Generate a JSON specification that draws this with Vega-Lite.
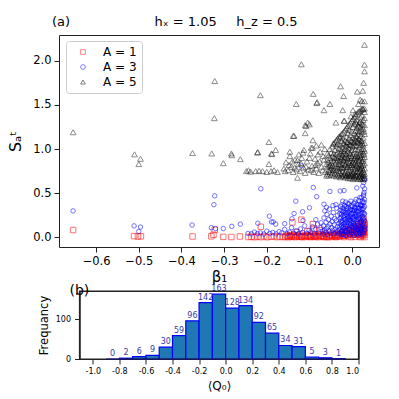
{
"$schema": "https://vega.github.io/schema/vega-lite/v6.json",
"autosize": {"type": "none"},
"padding": {"left": 59, "top": 35, "right": 340, "bottom": 364},
"background": "white",
"config": {
  "font": "DejaVu Sans",
  "view": {"stroke": "#222", "strokeWidth": 1},
  "axis": {"grid": false, "domain": false, "tickColor": "#222", "tickWidth": 1, "labelColor": "black", "titleColor": "black", "labelFont": "DejaVu Sans", "titleFont": "DejaVu Sans", "titleFontWeight": "normal"},
  "title": {"font": "DejaVu Sans", "fontWeight": "normal", "color": "black"}
},
"bounds": "flush",
"center": true,
"spacing": 44,
"vconcat": [
 {
  "width": 320, "height": 212,
  "title": {"text": "(a)\u2003\u2003\u2003\u2003\u2003\u2003\u2002hₓ = 1.05\u2003\u2002h_z = 0.5", "anchor": "start", "frame": "group", "dx": -7, "offset": -4, "fontSize": 13, "baseline": "alphabetic"},
  "encoding": {
    "x": {"field": "b", "type": "quantitative", "scale": {"domain": [-0.687, 0.063], "nice": false, "zero": false},
          "axis": {"title": "β₁", "values": [-0.6, -0.5, -0.4, -0.3, -0.2, -0.1, 0], "format": ".1f", "labelFontSize": 11.5, "titleFontSize": 15, "tickSize": 5, "labelPadding": 3, "titlePadding": 3}},
    "y": {"field": "s", "type": "quantitative", "scale": {"domain": [-0.109, 2.291], "nice": false, "zero": false},
          "axis": {"title": "Sₐᵗ", "values": [0, 0.5, 1, 1.5, 2], "format": ".1f", "labelFontSize": 11.5, "titleFontSize": 16, "tickSize": 5, "labelPadding": 3, "titlePadding": 9}}
  },
  "layer": [
   {
    "data": {"values": [
{"b":-0.654,"s":0.083},{"b":-0.511,"s":0.014},{"b":-0.502,"s":0.01},{"b":-0.495,"s":0.012},{"b":-0.374,"s":0.01},{"b":-0.33,"s":0.012},{"b":-0.325,"s":0.03},{"b":-0.322,"s":0.085},{"b":-0.302,"s":0.006},{"b":-0.283,"s":0.004},{"b":-0.263,"s":0.01},{"b":-0.214,"s":0.12},{"b":-0.243,"s":0.004},{"b":-0.236,"s":0.008},{"b":-0.229,"s":0.002},{"b":-0.222,"s":0.009},{"b":-0.214,"s":0.003},{"b":-0.206,"s":0.011},{"b":-0.199,"s":0.002},{"b":-0.19,"s":0.007},{"b":-0.183,"s":0.013},{"b":-0.176,"s":0.003},{"b":-0.169,"s":0.009},{"b":-0.162,"s":0.004},{"b":-0.14,"s":0.17},{"b":-0.119,"s":0.2},{"b":-0.092,"s":0.15},{"b":-0.09,"s":0.1},{"b":-0.13,"s":0.06},{"b":-0.105,"s":0.07},{"b":-0.076,"s":0.08},
{"b":-0.157,"s":0.005},{"b":-0.153,"s":0.021},{"b":-0.149,"s":0.002},{"b":-0.146,"s":0.015},{"b":-0.141,"s":0.006},{"b":-0.137,"s":0.026},{"b":-0.133,"s":0.003},{"b":-0.129,"s":0.012},{"b":-0.124,"s":0.007},{"b":-0.121,"s":0.031},{"b":-0.117,"s":0.002},{"b":-0.112,"s":0.018},{"b":-0.108,"s":0.005},{"b":-0.104,"s":0.024},{"b":-0.1,"s":0.009},{"b":-0.096,"s":0.003},{"b":-0.093,"s":0.028},{"b":-0.088,"s":0.006},{"b":-0.084,"s":0.017},{"b":-0.08,"s":0.002},{"b":-0.077,"s":0.035},{"b":-0.073,"s":0.008},{"b":-0.069,"s":0.019},{"b":-0.065,"s":0.003},{"b":-0.062,"s":0.041},{"b":-0.058,"s":0.011},{"b":-0.055,"s":0.002},{"b":-0.051,"s":0.027},{"b":-0.047,"s":0.006},{"b":-0.044,"s":0.048},{"b":-0.04,"s":0.014},{"b":-0.037,"s":0.003},{"b":-0.033,"s":0.032},{"b":-0.029,"s":0.008},{"b":-0.026,"s":0.055},{"b":-0.022,"s":0.019},{"b":-0.019,"s":0.004},{"b":-0.015,"s":0.038},{"b":-0.012,"s":0.071},{"b":-0.009,"s":0.012},{"b":-0.006,"s":0.046},{"b":-0.003,"s":0.003},{"b":0.0,"s":0.084},{"b":0.002,"s":0.027},{"b":0.005,"s":0.058},{"b":0.007,"s":0.006},{"b":0.01,"s":0.097},{"b":0.012,"s":0.035},{"b":0.015,"s":0.068},{"b":0.017,"s":0.012},{"b":0.019,"s":0.108},{"b":0.021,"s":0.044},{"b":0.023,"s":0.079},{"b":0.025,"s":0.018},{"b":0.026,"s":0.125},{"b":0.027,"s":0.055},{"b":0.028,"s":0.092},{"b":0.029,"s":0.004},{"b":0.029,"s":0.138},{"b":0.028,"s":0.031},
{"b":-0.02,"s":0.06},{"b":-0.01,"s":0.025},{"b":0.003,"s":0.11},{"b":0.013,"s":0.12},{"b":0.02,"s":0.003},{"b":-0.035,"s":0.018},{"b":-0.06,"s":0.025},{"b":-0.09,"s":0.014},{"b":-0.118,"s":0.014},{"b":-0.145,"s":0.028},{"b":0.024,"s":0.1},{"b":0.016,"s":0.09},{"b":0.008,"s":0.075},{"b":-0.004,"s":0.065},{"b":0.027,"s":0.075},{"b":0.018,"s":0.05},
{"b":0.02,"s":0.16},{"b":0.025,"s":0.19},{"b":0.028,"s":0.17},{"b":0.015,"s":0.15},{"b":0.01,"s":0.14},{"b":0.027,"s":0.21},{"b":0.022,"s":0.13},{"b":0.005,"s":0.12},{"b":-0.005,"s":0.1},{"b":-0.015,"s":0.09},{"b":0.029,"s":0.155},
{"b":-0.151,"s":0.01},{"b":-0.143,"s":0.012},{"b":-0.135,"s":0.01},{"b":-0.127,"s":0.02},{"b":-0.119,"s":0.008},{"b":-0.11,"s":0.011},{"b":-0.102,"s":0.016},{"b":-0.098,"s":0.012},{"b":-0.086,"s":0.01},{"b":-0.082,"s":0.022},{"b":-0.075,"s":0.015},{"b":-0.067,"s":0.01},{"b":-0.06,"s":0.006},{"b":-0.053,"s":0.014},{"b":-0.046,"s":0.02},{"b":-0.042,"s":0.03},{"b":-0.039,"s":0.008},{"b":-0.031,"s":0.02},{"b":-0.024,"s":0.035},{"b":-0.017,"s":0.02},{"b":-0.013,"s":0.05},{"b":-0.008,"s":0.03},{"b":-0.001,"s":0.045},{"b":0.004,"s":0.035},{"b":0.009,"s":0.05},{"b":0.014,"s":0.03},{"b":0.019,"s":0.065},{"b":0.022,"s":0.025},{"b":0.026,"s":0.045},{"b":0.029,"s":0.06},{"b":0.029,"s":0.1},{"b":0.024,"s":0.07},{"b":0.011,"s":0.06},{"b":0.0,"s":0.06},{"b":-0.007,"s":0.08}
    ]},
    "mark": {"type": "point", "filled": false, "strokeWidth": 1, "opacity": 0.55, "size": 30},
    "encoding": {
      "color": {"datum": "A = 1", "type": "nominal", "scale": {"domain": ["A = 1", "A = 3", "A = 5"], "range": ["red", "blue", "black"]},
                "legend": {"title": null, "orient": "none", "legendX": 7, "legendY": 6, "padding": 5, "symbolOffset": 6, "labelOffset": 14, "labelFontSize": 12, "rowPadding": 3, "symbolSize": 22, "symbolStrokeWidth": 1, "symbolOpacity": 0.5, "fillColor": "white", "strokeColor": "#ccc", "cornerRadius": 3, "labelColor": "black"}},
      "shape": {"datum": "A = 1", "type": "nominal", "scale": {"domain": ["A = 1", "A = 3", "A = 5"], "range": ["square", "circle", "triangle-up"]}}
    }
   },
   {
    "data": {"values": [
{"b":-0.654,"s":0.3},{"b":-0.511,"s":0.13},{"b":-0.496,"s":0.117},{"b":-0.5,"s":0.068},{"b":-0.375,"s":0.14},{"b":-0.322,"s":0.47},{"b":-0.324,"s":0.37},{"b":-0.33,"s":0.11},{"b":-0.32,"s":0.1},{"b":-0.302,"s":0.1},{"b":-0.282,"s":0.125},{"b":-0.262,"s":0.15},{"b":-0.214,"s":0.55},{"b":-0.221,"s":0.16},{"b":-0.194,"s":0.24},{"b":-0.189,"s":0.175},{"b":-0.179,"s":0.15},{"b":-0.132,"s":0.41},{"b":-0.091,"s":0.565},{"b":-0.083,"s":0.46},{"b":-0.052,"s":0.52},{"b":-0.028,"s":0.525},{"b":-0.019,"s":0.53},{"b":0.011,"s":0.56},{"b":0.025,"s":0.58},{"b":0.027,"s":0.62},{"b":0.029,"s":0.65},{"b":-0.066,"s":0.375},{"b":-0.038,"s":0.37},{"b":-0.022,"s":0.41},{"b":-0.1,"s":0.335},{"b":-0.116,"s":0.29},{"b":-0.136,"s":0.27},{"b":-0.141,"s":0.21},{"b":-0.158,"s":0.155},{"b":-0.115,"s":0.19},{"b":-0.085,"s":0.2},{"b":-0.073,"s":0.165},{"b":-0.119,"s":0.81},{"b":-0.185,"s":0.175},
{"b":-0.244,"s":0.045},{"b":-0.236,"s":0.04},{"b":-0.229,"s":0.06},{"b":-0.222,"s":0.042},{"b":-0.215,"s":0.05},{"b":-0.207,"s":0.038},{"b":-0.2,"s":0.07},{"b":-0.193,"s":0.045},{"b":-0.186,"s":0.055},{"b":-0.178,"s":0.04},{"b":-0.171,"s":0.065},{"b":-0.165,"s":0.05},{"b":-0.158,"s":0.09},{"b":-0.152,"s":0.042},{"b":-0.147,"s":0.06},{"b":-0.142,"s":0.11},{"b":-0.137,"s":0.048},{"b":-0.131,"s":0.075},{"b":-0.126,"s":0.04},{"b":-0.121,"s":0.095},{"b":-0.116,"s":0.055},{"b":-0.111,"s":0.13},{"b":-0.106,"s":0.045},{"b":-0.101,"s":0.08},{"b":-0.097,"s":0.06},{"b":-0.093,"s":0.12},{"b":-0.089,"s":0.04},{"b":-0.085,"s":0.09},{"b":-0.081,"s":0.15},{"b":-0.077,"s":0.05},{"b":-0.073,"s":0.11},{"b":-0.07,"s":0.07},
{"b":-0.068,"s":0.04},{"b":-0.067,"s":0.13},{"b":-0.066,"s":0.22},{"b":-0.065,"s":0.08},{"b":-0.064,"s":0.3},{"b":-0.062,"s":0.06},{"b":-0.061,"s":0.17},{"b":-0.06,"s":0.1},{"b":-0.059,"s":0.26},{"b":-0.058,"s":0.035},{"b":-0.056,"s":0.12},{"b":-0.055,"s":0.2},{"b":-0.054,"s":0.07},{"b":-0.053,"s":0.32},{"b":-0.052,"s":0.15},{"b":-0.05,"s":0.05},{"b":-0.049,"s":0.24},{"b":-0.048,"s":0.11},{"b":-0.047,"s":0.18},{"b":-0.046,"s":0.08},{"b":-0.044,"s":0.28},{"b":-0.043,"s":0.04},{"b":-0.042,"s":0.14},{"b":-0.041,"s":0.21},{"b":-0.04,"s":0.09},{"b":-0.038,"s":0.06},{"b":-0.037,"s":0.19},{"b":-0.036,"s":0.33},{"b":-0.035,"s":0.12},{"b":-0.034,"s":0.25},
{"b":-0.032,"s":0.04},{"b":-0.031,"s":0.16},{"b":-0.03,"s":0.09},{"b":-0.029,"s":0.27},{"b":-0.028,"s":0.21},{"b":-0.027,"s":0.35},{"b":-0.026,"s":0.06},{"b":-0.025,"s":0.13},{"b":-0.024,"s":0.3},{"b":-0.023,"s":0.19},{"b":-0.022,"s":0.08},{"b":-0.021,"s":0.24},{"b":-0.02,"s":0.04},{"b":-0.019,"s":0.15},{"b":-0.018,"s":0.36},{"b":-0.017,"s":0.1},{"b":-0.016,"s":0.28},{"b":-0.015,"s":0.2},{"b":-0.014,"s":0.06},{"b":-0.013,"s":0.33},{"b":-0.012,"s":0.17},{"b":-0.011,"s":0.12},{"b":-0.01,"s":0.25},{"b":-0.009,"s":0.04},{"b":-0.008,"s":0.22},{"b":-0.007,"s":0.38},{"b":-0.006,"s":0.09},{"b":-0.005,"s":0.3},{"b":-0.004,"s":0.14},{"b":-0.003,"s":0.19},{"b":-0.002,"s":0.05},{"b":-0.001,"s":0.27},{"b":0.0,"s":0.35},{"b":0.001,"s":0.11},{"b":0.002,"s":0.23},{"b":0.003,"s":0.16},{"b":0.004,"s":0.07},{"b":0.005,"s":0.31},{"b":0.006,"s":0.2},{"b":0.007,"s":0.4},{"b":0.008,"s":0.13},{"b":0.009,"s":0.26},{"b":0.01,"s":0.04},{"b":0.011,"s":0.18},{"b":0.012,"s":0.34},{"b":0.013,"s":0.09},{"b":0.014,"s":0.29},{"b":0.015,"s":0.22},{"b":0.016,"s":0.42},{"b":0.017,"s":0.12},{"b":0.018,"s":0.06},{"b":0.019,"s":0.37},{"b":0.02,"s":0.17},{"b":0.021,"s":0.27},{"b":0.022,"s":0.45},{"b":0.023,"s":0.1},{"b":0.024,"s":0.32},{"b":0.025,"s":0.21},{"b":0.026,"s":0.05},{"b":0.026,"s":0.39},{"b":0.027,"s":0.15},{"b":0.027,"s":0.47},{"b":0.028,"s":0.26},{"b":0.028,"s":0.08},{"b":0.029,"s":0.35},{"b":0.029,"s":0.19},{"b":0.029,"s":0.43},{"b":0.029,"s":0.12},{"b":0.028,"s":0.51},{"b":0.024,"s":0.41},{"b":0.02,"s":0.36},{"b":0.017,"s":0.3},{"b":0.013,"s":0.24},{"b":0.01,"s":0.3},{"b":0.006,"s":0.34},{"b":0.003,"s":0.28},{"b":0.0,"s":0.22},{"b":-0.004,"s":0.32},{"b":-0.009,"s":0.15},{"b":-0.014,"s":0.26},{"b":-0.019,"s":0.22},{"b":-0.024,"s":0.17},{"b":-0.029,"s":0.12},{"b":-0.034,"s":0.07},{"b":0.025,"s":0.13},{"b":0.021,"s":0.08},{"b":0.016,"s":0.2},{"b":0.012,"s":0.11},{"b":0.008,"s":0.27},{"b":0.004,"s":0.38},{"b":-0.001,"s":0.16},{"b":-0.006,"s":0.2},{"b":-0.011,"s":0.31},{"b":-0.016,"s":0.13},{"b":-0.021,"s":0.33},{"b":-0.026,"s":0.23},{"b":0.029,"s":0.55},{"b":0.027,"s":0.49},{"b":0.022,"s":0.36},{"b":0.018,"s":0.45},{"b":0.014,"s":0.37},{"b":0.009,"s":0.43},{"b":-0.003,"s":0.41},{"b":-0.01,"s":0.38},{"b":-0.015,"s":0.4},{"b":-0.045,"s":0.36},{"b":-0.06,"s":0.34},{"b":0.026,"s":0.28},{"b":0.023,"s":0.03},{"b":0.015,"s":0.03},{"b":0.005,"s":0.02},{"b":-0.005,"s":0.03},{"b":-0.015,"s":0.02},{"b":-0.025,"s":0.03},
{"b":-0.029,"s":0.05},{"b":-0.027,"s":0.18},{"b":-0.025,"s":0.26},{"b":-0.023,"s":0.11},{"b":-0.021,"s":0.03},{"b":-0.019,"s":0.3},{"b":-0.017,"s":0.2},{"b":-0.015,"s":0.07},{"b":-0.013,"s":0.14},{"b":-0.011,"s":0.22},{"b":-0.009,"s":0.34},{"b":-0.007,"s":0.1},{"b":-0.005,"s":0.17},{"b":-0.003,"s":0.26},{"b":-0.001,"s":0.08},{"b":0.001,"s":0.31},{"b":0.003,"s":0.04},{"b":0.005,"s":0.14},{"b":0.007,"s":0.24},{"b":0.009,"s":0.09},{"b":0.011,"s":0.37},{"b":0.013,"s":0.16},{"b":0.015,"s":0.26},{"b":0.017,"s":0.05},{"b":0.019,"s":0.22},{"b":0.021,"s":0.13},{"b":0.023,"s":0.28},{"b":0.025,"s":0.06},{"b":0.027,"s":0.33},{"b":0.029,"s":0.09},{"b":0.029,"s":0.27},{"b":0.028,"s":0.4},{"b":0.026,"s":0.17},{"b":0.024,"s":0.24},{"b":0.022,"s":0.19},{"b":0.02,"s":0.1},{"b":0.018,"s":0.33},{"b":0.016,"s":0.09},{"b":0.014,"s":0.14},{"b":0.012,"s":0.2},{"b":0.01,"s":0.24},{"b":0.008,"s":0.06},{"b":0.006,"s":0.11},{"b":0.004,"s":0.3},{"b":0.002,"s":0.18},{"b":0.0,"s":0.13},{"b":-0.002,"s":0.36},{"b":-0.004,"s":0.23},{"b":-0.006,"s":0.06},{"b":-0.008,"s":0.28},{"b":-0.01,"s":0.19},{"b":-0.012,"s":0.08},{"b":-0.014,"s":0.35},{"b":-0.016,"s":0.17},{"b":-0.018,"s":0.25},{"b":-0.02,"s":0.12},{"b":-0.022,"s":0.29},{"b":-0.024,"s":0.07},{"b":-0.026,"s":0.15},{"b":-0.028,"s":0.31},{"b":0.027,"s":0.22},{"b":0.025,"s":0.36},{"b":0.021,"s":0.31},{"b":0.019,"s":0.04},{"b":0.015,"s":0.33},{"b":0.011,"s":0.08},{"b":0.007,"s":0.33},{"b":0.003,"s":0.21},{"b":-0.005,"s":0.24},{"b":-0.012,"s":0.28},{"b":-0.018,"s":0.07},{"b":-0.024,"s":0.37}
    ]},
    "mark": {"type": "point", "filled": false, "strokeWidth": 1, "opacity": 0.55, "size": 20},
    "encoding": {
      "color": {"datum": "A = 3", "type": "nominal"},
      "shape": {"datum": "A = 3", "type": "nominal"}
    }
   },
   {
    "data": {"values": [
{"b":-0.654,"s":1.19},{"b":-0.51,"s":0.94},{"b":-0.496,"s":0.89},{"b":-0.5,"s":0.83},{"b":-0.374,"s":0.955},{"b":-0.322,"s":1.77},{"b":-0.323,"s":1.35},{"b":-0.215,"s":1.61},{"b":-0.195,"s":1.08},{"b":-0.179,"s":0.99},{"b":-0.329,"s":0.95},{"b":-0.302,"s":0.84},{"b":-0.282,"s":0.93},{"b":-0.262,"s":0.886},{"b":-0.221,"s":0.966},{"b":-0.188,"s":0.943},{"b":-0.195,"s":0.83},
{"b":-0.248,"s":0.75},{"b":-0.243,"s":0.76},{"b":-0.238,"s":0.745},{"b":-0.226,"s":0.75},{"b":-0.218,"s":0.755},{"b":-0.21,"s":0.75},{"b":-0.2,"s":0.74},{"b":-0.19,"s":0.75},{"b":-0.183,"s":0.76},{"b":-0.175,"s":0.74},
{"b":-0.131,"s":1.51},{"b":-0.083,"s":1.52},{"b":-0.066,"s":1.44},{"b":-0.052,"s":1.51},{"b":-0.038,"s":1.3},{"b":-0.018,"s":1.32},{"b":-0.11,"s":1.27},{"b":-0.104,"s":1.3},{"b":-0.11,"s":1.18},{"b":-0.138,"s":1.15},{"b":-0.146,"s":0.97},{"b":-0.128,"s":0.875},{"b":-0.115,"s":0.96},{"b":-0.096,"s":1.015},{"b":-0.084,"s":1.04},{"b":-0.044,"s":1.065},
{"b":0.029,"s":2.18},{"b":-0.119,"s":1.96},{"b":0.029,"s":1.955},{"b":0.029,"s":1.88},{"b":-0.027,"s":1.71},{"b":0.027,"s":1.75},{"b":0.012,"s":1.65},{"b":0.025,"s":1.66},{"b":-0.02,"s":1.6},{"b":-0.091,"s":1.625},{"b":-0.082,"s":1.53},{"b":0.023,"s":1.545},{"b":0.029,"s":1.54},{"b":0.015,"s":1.51},{"b":0.029,"s":1.46},{"b":-0.022,"s":1.44},{"b":0.007,"s":1.4},{"b":-0.003,"s":1.37},{"b":-0.1,"s":1.28},{"b":-0.108,"s":1.26},{"b":-0.019,"s":1.32},{"b":-0.136,"s":1.15},{"b":-0.028,"s":1.13},{"b":-0.093,"s":1.015},{"b":0.002,"s":1.44},{"b":0.019,"s":1.56},{"b":0.025,"s":1.46},{"b":-0.283,"s":0.95},{"b":-0.222,"s":0.96},{"b":-0.189,"s":0.95},{"b":-0.128,"s":0.675},{"b":-0.06,"s":0.7},
{"b":-0.16,"s":0.78},{"b":-0.155,"s":0.85},{"b":-0.15,"s":0.76},{"b":-0.146,"s":0.92},{"b":-0.142,"s":0.8},{"b":-0.138,"s":0.74},{"b":-0.134,"s":0.88},{"b":-0.13,"s":0.77},{"b":-0.126,"s":0.83},{"b":-0.122,"s":0.75},{"b":-0.118,"s":0.9},{"b":-0.114,"s":0.79},{"b":-0.11,"s":0.73},{"b":-0.106,"s":0.86},{"b":-0.102,"s":0.77},{"b":-0.098,"s":0.95},{"b":-0.094,"s":0.81},{"b":-0.09,"s":0.74},{"b":-0.087,"s":0.89},{"b":-0.084,"s":0.78},{"b":-0.081,"s":0.84},{"b":-0.078,"s":0.73},{"b":-0.075,"s":0.97},{"b":-0.072,"s":0.8},{"b":-0.069,"s":0.76},{"b":-0.066,"s":0.88},{"b":-0.063,"s":0.74},{"b":-0.06,"s":0.83},{"b":-0.157,"s":0.75},{"b":-0.148,"s":0.82},{"b":-0.135,"s":0.79},{"b":-0.12,"s":0.84},{"b":-0.108,"s":0.8},{"b":-0.096,"s":0.76},{"b":-0.086,"s":0.82},{"b":-0.076,"s":0.86},{"b":-0.068,"s":0.92},{"b":-0.064,"s":1.0},{"b":-0.072,"s":1.05},{"b":-0.08,"s":0.94},{"b":-0.14,"s":0.86},{"b":-0.125,"s":0.94},{"b":-0.1,"s":0.9},{"b":-0.092,"s":1.1},{"b":-0.113,"s":0.99},
{"b":-0.058,"s":0.72},{"b":-0.058,"s":0.8},{"b":-0.058,"s":0.88},{"b":-0.058,"s":0.95},
{"b":-0.055,"s":0.7},{"b":-0.055,"s":0.76},{"b":-0.055,"s":0.85},{"b":-0.055,"s":0.93},
{"b":-0.052,"s":0.74},{"b":-0.052,"s":0.82},{"b":-0.052,"s":0.9},{"b":-0.052,"s":1.0},
{"b":-0.049,"s":0.71},{"b":-0.049,"s":0.79},{"b":-0.049,"s":0.87},{"b":-0.049,"s":0.96},
{"b":-0.046,"s":0.73},{"b":-0.046,"s":0.81},{"b":-0.046,"s":0.92},{"b":-0.046,"s":1.03},
{"b":-0.043,"s":0.7},{"b":-0.043,"s":0.77},{"b":-0.043,"s":0.86},{"b":-0.043,"s":0.95},{"b":-0.043,"s":1.06},
{"b":-0.04,"s":0.72},{"b":-0.04,"s":0.83},{"b":-0.04,"s":0.9},{"b":-0.04,"s":0.99},{"b":-0.04,"s":1.08},
{"b":-0.037,"s":0.69},{"b":-0.037,"s":0.76},{"b":-0.037,"s":0.85},{"b":-0.037,"s":0.94},{"b":-0.037,"s":1.04},{"b":-0.037,"s":1.1},
{"b":-0.034,"s":0.71},{"b":-0.034,"s":0.8},{"b":-0.034,"s":0.88},{"b":-0.034,"s":0.97},{"b":-0.034,"s":1.06},{"b":-0.034,"s":1.12},
{"b":-0.031,"s":0.7},{"b":-0.031,"s":0.75},{"b":-0.031,"s":0.83},{"b":-0.031,"s":0.92},{"b":-0.031,"s":1.01},{"b":-0.031,"s":1.14},
{"b":-0.028,"s":0.68},{"b":-0.028,"s":0.78},{"b":-0.028,"s":0.86},{"b":-0.028,"s":0.95},{"b":-0.028,"s":1.05},{"b":-0.028,"s":1.15},
{"b":-0.025,"s":0.72},{"b":-0.025,"s":0.8},{"b":-0.025,"s":0.89},{"b":-0.025,"s":0.98},{"b":-0.025,"s":1.09},{"b":-0.025,"s":1.17},
{"b":-0.022,"s":0.69},{"b":-0.022,"s":0.75},{"b":-0.022,"s":0.84},{"b":-0.022,"s":0.93},{"b":-0.022,"s":1.02},{"b":-0.022,"s":1.12},{"b":-0.022,"s":1.18},
{"b":-0.019,"s":0.71},{"b":-0.019,"s":0.79},{"b":-0.019,"s":0.87},{"b":-0.019,"s":0.96},{"b":-0.019,"s":1.06},{"b":-0.019,"s":1.2},
{"b":-0.016,"s":0.68},{"b":-0.016,"s":0.74},{"b":-0.016,"s":0.82},{"b":-0.016,"s":0.91},{"b":-0.016,"s":1.0},{"b":-0.016,"s":1.1},{"b":-0.016,"s":1.22},
{"b":-0.013,"s":0.7},{"b":-0.013,"s":0.77},{"b":-0.013,"s":0.85},{"b":-0.013,"s":0.94},{"b":-0.013,"s":1.04},{"b":-0.013,"s":1.14},{"b":-0.013,"s":1.24},
{"b":-0.01,"s":0.67},{"b":-0.01,"s":0.73},{"b":-0.01,"s":0.8},{"b":-0.01,"s":0.89},{"b":-0.01,"s":0.98},{"b":-0.01,"s":1.08},{"b":-0.01,"s":1.18},{"b":-0.01,"s":1.26},
{"b":-0.007,"s":0.69},{"b":-0.007,"s":0.76},{"b":-0.007,"s":0.84},{"b":-0.007,"s":0.92},{"b":-0.007,"s":1.01},{"b":-0.007,"s":1.12},{"b":-0.007,"s":1.22},{"b":-0.007,"s":1.28},
{"b":-0.004,"s":0.67},{"b":-0.004,"s":0.72},{"b":-0.004,"s":0.79},{"b":-0.004,"s":0.87},{"b":-0.004,"s":0.95},{"b":-0.004,"s":1.05},{"b":-0.004,"s":1.16},{"b":-0.004,"s":1.3},
{"b":-0.001,"s":0.7},{"b":-0.001,"s":0.75},{"b":-0.001,"s":0.82},{"b":-0.001,"s":0.9},{"b":-0.001,"s":0.99},{"b":-0.001,"s":1.09},{"b":-0.001,"s":1.2},{"b":-0.001,"s":1.32},
{"b":0.002,"s":0.66},{"b":0.002,"s":0.73},{"b":0.002,"s":0.8},{"b":0.002,"s":0.86},{"b":0.002,"s":0.94},{"b":0.002,"s":1.03},{"b":0.002,"s":1.13},{"b":0.002,"s":1.25},{"b":0.002,"s":1.34},
{"b":0.005,"s":0.68},{"b":0.005,"s":0.74},{"b":0.005,"s":0.83},{"b":0.005,"s":0.89},{"b":0.005,"s":0.97},{"b":0.005,"s":1.07},{"b":0.005,"s":1.18},{"b":0.005,"s":1.28},{"b":0.005,"s":1.36},
{"b":0.008,"s":0.67},{"b":0.008,"s":0.71},{"b":0.008,"s":0.78},{"b":0.008,"s":0.85},{"b":0.008,"s":0.92},{"b":0.008,"s":1.0},{"b":0.008,"s":1.1},{"b":0.008,"s":1.21},{"b":0.008,"s":1.31},{"b":0.008,"s":1.38},
{"b":0.011,"s":0.69},{"b":0.011,"s":0.75},{"b":0.011,"s":0.81},{"b":0.011,"s":0.88},{"b":0.011,"s":0.95},{"b":0.011,"s":1.04},{"b":0.011,"s":1.14},{"b":0.011,"s":1.24},{"b":0.011,"s":1.33},{"b":0.011,"s":1.4},
{"b":0.014,"s":0.66},{"b":0.014,"s":0.72},{"b":0.014,"s":0.79},{"b":0.014,"s":0.84},{"b":0.014,"s":0.91},{"b":0.014,"s":0.99},{"b":0.014,"s":1.08},{"b":0.014,"s":1.17},{"b":0.014,"s":1.27},{"b":0.014,"s":1.42},
{"b":0.017,"s":0.68},{"b":0.017,"s":0.74},{"b":0.017,"s":0.8},{"b":0.017,"s":0.87},{"b":0.017,"s":0.94},{"b":0.017,"s":1.02},{"b":0.017,"s":1.11},{"b":0.017,"s":1.2},{"b":0.017,"s":1.3},{"b":0.017,"s":1.43},
{"b":0.02,"s":0.66},{"b":0.02,"s":0.7},{"b":0.02,"s":0.77},{"b":0.02,"s":0.83},{"b":0.02,"s":0.9},{"b":0.02,"s":0.97},{"b":0.02,"s":1.05},{"b":0.02,"s":1.15},{"b":0.02,"s":1.25},{"b":0.02,"s":1.36},{"b":0.02,"s":1.44},
{"b":0.023,"s":0.67},{"b":0.023,"s":0.73},{"b":0.023,"s":0.79},{"b":0.023,"s":0.86},{"b":0.023,"s":0.93},{"b":0.023,"s":1.0},{"b":0.023,"s":1.09},{"b":0.023,"s":1.19},{"b":0.023,"s":1.29},{"b":0.023,"s":1.38},{"b":0.023,"s":1.45},
{"b":0.026,"s":0.66},{"b":0.026,"s":0.71},{"b":0.026,"s":0.76},{"b":0.026,"s":0.82},{"b":0.026,"s":0.89},{"b":0.026,"s":0.96},{"b":0.026,"s":1.04},{"b":0.026,"s":1.13},{"b":0.026,"s":1.23},{"b":0.026,"s":1.33},{"b":0.026,"s":1.45},
{"b":0.029,"s":0.67},{"b":0.029,"s":0.72},{"b":0.029,"s":0.78},{"b":0.029,"s":0.84},{"b":0.029,"s":0.91},{"b":0.029,"s":0.98},{"b":0.029,"s":1.07},{"b":0.029,"s":1.17},{"b":0.029,"s":1.27},{"b":0.029,"s":1.35},{"b":0.029,"s":1.42},
{"b":-0.029,"s":0.73},{"b":-0.027,"s":0.82},{"b":-0.026,"s":0.91},{"b":-0.024,"s":0.7},{"b":-0.023,"s":0.79},{"b":-0.021,"s":0.88},{"b":-0.02,"s":0.98},{"b":-0.018,"s":0.72},{"b":-0.017,"s":0.83},{"b":-0.015,"s":0.95},{"b":-0.014,"s":0.7},{"b":-0.012,"s":0.8},{"b":-0.011,"s":0.9},{"b":-0.009,"s":0.71},{"b":-0.008,"s":0.86},{"b":-0.006,"s":0.96},{"b":-0.005,"s":0.7},{"b":-0.003,"s":0.82},{"b":-0.002,"s":0.92},{"b":0.0,"s":0.72},{"b":0.001,"s":0.84},{"b":0.003,"s":0.69},{"b":0.004,"s":0.77},{"b":0.006,"s":0.9},{"b":0.007,"s":1.04},{"b":0.009,"s":0.7},{"b":0.01,"s":0.82},{"b":0.012,"s":0.92},{"b":0.013,"s":0.75},{"b":0.015,"s":0.87},{"b":0.016,"s":0.69},{"b":0.018,"s":0.78},{"b":0.019,"s":0.93},{"b":0.021,"s":0.72},{"b":0.022,"s":0.81},{"b":0.024,"s":0.69},{"b":0.025,"s":0.86},{"b":0.027,"s":0.74},{"b":0.028,"s":0.94},{"b":0.029,"s":0.69},{"b":0.027,"s":1.0},{"b":0.024,"s":1.06},{"b":0.021,"s":1.1},{"b":0.018,"s":1.07},{"b":0.015,"s":1.12},{"b":0.012,"s":1.09},{"b":0.009,"s":1.15},{"b":0.006,"s":1.12},{"b":0.003,"s":1.08},{"b":0.0,"s":1.04},{"b":-0.003,"s":1.1},{"b":-0.006,"s":1.06},{"b":-0.009,"s":1.02},{"b":-0.012,"s":1.08},{"b":-0.015,"s":1.04},{"b":-0.018,"s":0.9},{"b":-0.021,"s":1.07},{"b":-0.024,"s":0.94},{"b":-0.027,"s":1.0},{"b":-0.03,"s":0.87},{"b":-0.033,"s":0.78},{"b":-0.036,"s":0.9},{"b":-0.039,"s":0.79},{"b":-0.042,"s":0.91},{"b":-0.045,"s":0.76},{"b":-0.048,"s":0.84},{"b":-0.051,"s":0.77},{"b":-0.054,"s":0.81},{"b":0.028,"s":1.2},{"b":0.025,"s":1.28},{"b":0.022,"s":1.22},{"b":0.019,"s":1.31},{"b":0.016,"s":1.26},{"b":0.013,"s":1.2},{"b":0.01,"s":1.29}
    ]},
    "mark": {"type": "point", "filled": false, "strokeWidth": 1, "opacity": 0.45, "size": 34},
    "encoding": {
      "color": {"datum": "A = 5", "type": "nominal"},
      "shape": {"datum": "A = 5", "type": "nominal"}
    }
   }
  ]
 },
 {
  "width": 279, "height": 68,
  "view": {"stroke": "#222", "strokeWidth": 1},
  "title": {"text": "(b)", "anchor": "start", "frame": "group", "dx": -10, "offset": -24, "fontSize": 14, "baseline": "alphabetic"},
  "resolve": {"axis": {"x": "independent", "y": "independent"}},
  "layer": [
    {"data": {"values": [
      {"lo": -0.9, "hi": -0.8, "n": 0}, {"lo": -0.8, "hi": -0.7, "n": 2}, {"lo": -0.7, "hi": -0.6, "n": 6}, {"lo": -0.6, "hi": -0.5, "n": 9},
      {"lo": -0.5, "hi": -0.4, "n": 30}, {"lo": -0.4, "hi": -0.3, "n": 59}, {"lo": -0.3, "hi": -0.2, "n": 96}, {"lo": -0.2, "hi": -0.1, "n": 142},
      {"lo": -0.1, "hi": 0.0, "n": 163}, {"lo": 0.0, "hi": 0.1, "n": 128}, {"lo": 0.1, "hi": 0.2, "n": 134}, {"lo": 0.2, "hi": 0.3, "n": 92},
      {"lo": 0.3, "hi": 0.4, "n": 65}, {"lo": 0.4, "hi": 0.5, "n": 34}, {"lo": 0.5, "hi": 0.6, "n": 31}, {"lo": 0.6, "hi": 0.7, "n": 5},
      {"lo": 0.7, "hi": 0.8, "n": 3}, {"lo": 0.8, "hi": 0.9, "n": 1}
     ]},
     "encoding": {
       "x": {"field": "lo", "type": "quantitative", "scale": {"domain": [-1.1, 1.0], "nice": false, "zero": false},
             "axis": {"title": "⟨Q₀⟩", "values": [-1, -0.8, -0.6, -0.4, -0.2, 0, 0.2, 0.4, 0.6, 0.8, 1], "labelExpr": "replace(format(datum.value, '.1f'), '−', '-')", "labelFontSize": 8, "titleFontSize": 12, "tickSize": 5, "labelPadding": 3, "titlePadding": 5, "domain": true, "domainColor": "#222", "domainWidth": 1}},
       "y": {"field": "n", "type": "quantitative", "scale": {"domain": [0, 171], "nice": false},
             "axis": {"title": "Frequancy", "values": [0, 100], "labelFontSize": 8, "titleFontSize": 11.5, "tickSize": 5, "labelPadding": 4, "titlePadding": 6, "domain": true, "domainColor": "#222", "domainWidth": 1}}
     },
     "layer": [
      {"mark": {"type": "rect", "fill": "#1f77b4", "stroke": "blue", "strokeWidth": 1.2}, "encoding": {"x2": {"field": "hi"}, "y2": {"datum": 0}}},
      {"mark": {"type": "text", "dx": 6.6, "dy": -1, "baseline": "bottom", "align": "center", "fontSize": 8, "color": "#3a3aa8"}, "encoding": {"text": {"field": "n", "type": "quantitative"}}}
     ]
    },
    {"data": {"values": [{}]},
     "mark": {"type": "rect", "fill": "transparent", "stroke": "#222", "strokeWidth": 1.2, "clip": false},
     "encoding": {
       "x": {"datum": -1.1, "type": "quantitative", "axis": {"orient": "top", "domain": true, "domainColor": "#222", "domainWidth": 1, "labels": false, "ticks": false, "title": null}},
       "x2": {"datum": 1.0},
       "y": {"datum": 0, "type": "quantitative", "axis": {"orient": "right", "domain": true, "domainColor": "#222", "domainWidth": 1, "labels": false, "ticks": false, "title": null}},
       "y2": {"datum": 171}
     }}
  ]
 }
]
}
